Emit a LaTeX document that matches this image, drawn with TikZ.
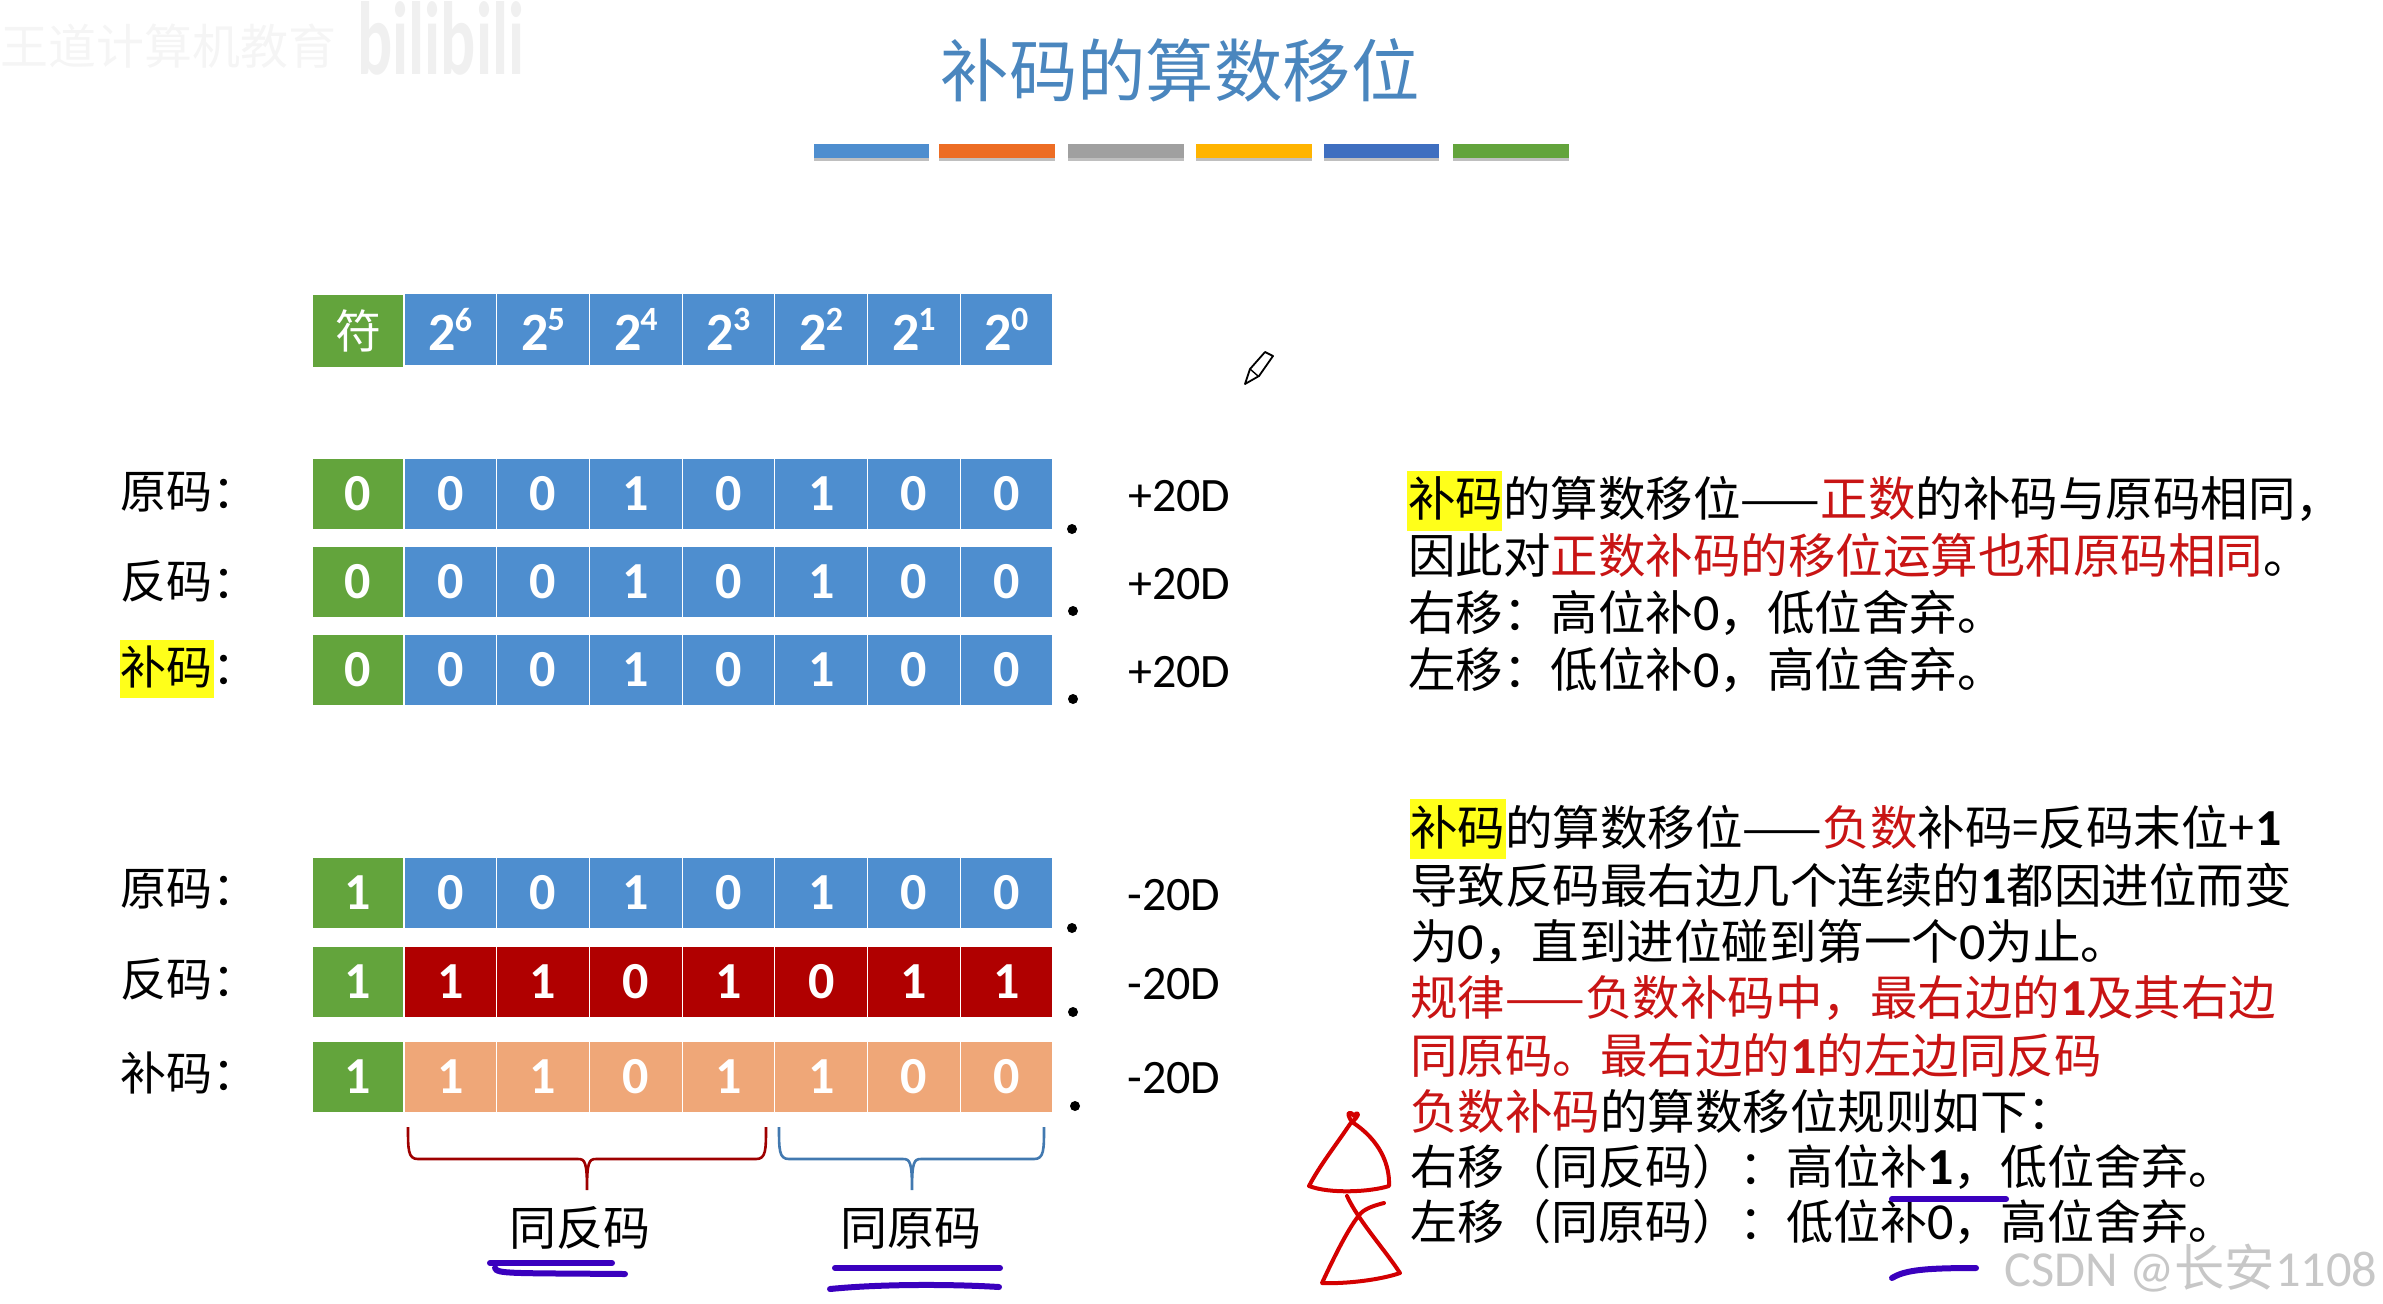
\documentclass[tikz,border=0pt]{standalone}
\usepackage{fontspec}
\setmainfont{Noto Sans CJK SC}
\newfontfamily\carlito{Carlito}
\newcommand\fs[1]{\fontsize{#1}{#1}\selectfont}
\newcommand\dg[1]{{\carlito\fs{26}#1}}
\newcommand\dgb[1]{{\carlito\bfseries\fs{26}#1}}
\definecolor{cgreen}{HTML}{63A43C}
\definecolor{cblue}{HTML}{4E8ECF}
\definecolor{cdark}{HTML}{B00000}
\definecolor{cpeach}{HTML}{EFA778}
\definecolor{ctitle}{HTML}{4A86BE}
\definecolor{tred}{HTML}{C81414}
\definecolor{hl}{HTML}{FFFF1A}
\definecolor{pen}{HTML}{3A00BE}
\definecolor{penred}{HTML}{D40000}
\tikzset{
  cellbox/.style={rectangle,draw=white,line width=.6pt,inner sep=0pt,text=white,
    font=\carlito\bfseries\fs{26},minimum width=46.36pt,minimum height=#1},
  cellbox/.default=36pt,
  rowlabel/.style={anchor=west,inner sep=0pt,font=\fs{23},text height=20.2pt,text depth=2.8pt},
  valuelabel/.style={anchor=west,inner sep=0pt,font=\carlito\fs{24},text height=16pt,text depth=0pt},
  bodyline/.style={anchor=west,inner sep=0pt,font=\fs{23.75},text height=20.9pt,text depth=2.9pt},
  caption/.style={inner sep=0pt,font=\fs{23.5},text height=20.7pt,text depth=2.8pt},
  decimal/.style={circle,fill=black,inner sep=0pt,minimum size=5pt},
  penline/.style={draw=pen,line width=3pt,line cap=round},
  redpen/.style={draw=penred,line width=2pt,line cap=round,line join=round},
}
\newcommand\bitrow[4]{% name, centre y, cell colour, bits
  \foreach \b [count=\i from 0] in {#4} {
    \ifnum\i=0
      \node[cellbox=36pt,fill=cgreen,minimum width=46pt] (#1c\i) at (358,#2) {\b};
    \else
      \pgfmathsetmacro\cx{404+92.72*(\i-1)+46.36}
      \node[cellbox=36pt,fill=#3] (#1c\i) at (\cx,#2) {\b};
    \fi
  }
}
\begin{document}
\begin{tikzpicture}[x=.5pt,y=-.5pt]
\useasboundingbox (0,0) rectangle (2383,1303);
% faint watermark
\node[inner sep=0pt,anchor=west,font=\fs{24},text=black!4] (wmtext) at (0,46) {王道计算机教育};
\node[inner sep=0pt,anchor=west,font=\carlito\bfseries\fs{40},text=black!6,xscale=.82,yscale=1.3,transform shape] (wmlogo) at (357,38) {bilibili};
% title
\node[inner sep=0pt,font=\fs{34.2},text=ctitle] (title) at (1180,70) {补码的算数移位};
% colour bars
\foreach \xa/\xb/\c [count=\n] in {814/929/4E8ECF,939/1055/ED6D24,1068/1184/A0A0A0,1196/1312/FFB400,1324/1439/3F6FC0,1453/1569/63A43C}{
  \definecolor{barc}{HTML}{\c}
  \fill[black!25] (\xa,146) rectangle (\xb,161);
  \fill[barc] (\xa,144) rectangle (\xb,158);
}
% header row
\node[cellbox=36.5pt,fill=cgreen,minimum width=46pt,font=\fs{23}] (hc0) at (358,331) {符};
\foreach \p [count=\i from 1] in {6,5,4,3,2,1,0} {
  \pgfmathsetmacro\cx{404+92.72*(\i-1)+46.36}
  \node[cellbox=36.5pt,fill=cblue,font=\carlito\bfseries\fs{27}] (hc\i) at (\cx,329.5) {2\kern-.02em\raisebox{.36em}{\fs{17}\p}};
}
% bit rows
\bitrow{a}{494}{cblue}{0,0,0,1,0,1,0,0}
\bitrow{b}{582}{cblue}{0,0,0,1,0,1,0,0}
\bitrow{c}{670}{cblue}{0,0,0,1,0,1,0,0}
\bitrow{d}{893}{cblue}{1,0,0,1,0,1,0,0}
\bitrow{e}{982}{cdark}{1,1,1,0,1,0,1,1}
\bitrow{f}{1077}{cpeach}{1,1,1,0,1,1,0,0}
% row labels
\fill[hl] (120,640) rectangle (214,698);
\node[rowlabel] (la) at (120,491) {原码：};
\node[rowlabel] (lb) at (120,581) {反码：};
\node[rowlabel] (lc) at (120,667) {补码：};
\node[rowlabel] (ld) at (120,888) {原码：};
\node[rowlabel] (le) at (120,979) {反码：};
\node[rowlabel] (lf) at (120,1073) {补码：};
% binary points
\node[decimal] (pa) at (1072,529) {};
\node[decimal] (pb) at (1073,611) {};
\node[decimal] (pc) at (1073,699) {};
\node[decimal] (pd) at (1072,928) {};
\node[decimal] (pe) at (1073,1012) {};
\node[decimal] (pf) at (1075,1106) {};
% values
\node[valuelabel] (va) at (1128,495) {+20D};
\node[valuelabel] (vb) at (1128,583) {+20D};
\node[valuelabel] (vc) at (1128,671) {+20D};
\node[valuelabel] (vd) at (1127,894) {-20D};
\node[valuelabel] (ve) at (1127,983) {-20D};
\node[valuelabel] (vf) at (1127,1077) {-20D};
% braces
\coordinate (ra) at (408,1127); \coordinate (rb) at (766,1127); \coordinate (rm) at (587,1190);
\coordinate (ba) at (779,1127); \coordinate (bb) at (1044,1127); \coordinate (bm) at (912,1190);
\draw[draw=cdark!90!black,line width=1.3pt,line join=round]
  (ra) .. controls (408,1150) and (408,1159) .. (418,1159) -- (578,1159)
  .. controls (585,1159) and (587,1162) .. (rm)
  (rb) .. controls (766,1150) and (766,1159) .. (756,1159) -- (596,1159)
  .. controls (589,1159) and (587,1162) .. (rm);
\draw[draw=cblue!85!black,line width=1.3pt,line join=round]
  (ba) .. controls (779,1150) and (779,1159) .. (789,1159) -- (903,1159)
  .. controls (910,1159) and (912,1162) .. (bm)
  (bb) .. controls (1044,1150) and (1044,1159) .. (1034,1159) -- (921,1159)
  .. controls (914,1159) and (912,1162) .. (bm);
% captions
\node[caption] (capa) at (580,1228) {同反码};
\node[caption] (capb) at (911,1228) {同原码};
% pencil cursor
\draw[draw=black,fill=white,line width=.9pt,line join=round] (1245,384) -- (1250,369) -- (1265,352) -- (1273,356) -- (1259,376) -- cycle;
\draw[draw=black,line width=.7pt] (1250,369) -- (1258,376);
% right text, upper block
\fill[hl] (1407,471) rectangle (1502,531);
\node[bodyline] (t1) at (1408,498) {补码的算数移位——\textcolor{tred}{正数}的补码与原码相同，};
\node[bodyline] (t2) at (1408,555) {因此对\textcolor{tred}{正数补码的移位运算也和原码相同}。};
\node[bodyline] (t3) at (1408,612) {右移：高位补\dg{0}，低位舍弃。};
\node[bodyline] (t4) at (1408,669) {左移：低位补\dg{0}，高位舍弃。};
% right text, lower block
\fill[hl] (1410,799) rectangle (1506,859);
\node[bodyline] (u1) at (1410,827) {补码的算数移位——\textcolor{tred}{负数}补码=反码末位+\dgb{1}};
\node[bodyline] (u2) at (1410,885) {导致反码最右边几个连续的\dgb{1}都因进位而变};
\node[bodyline] (u3) at (1410,941) {为\dg{0}，直到进位碰到第一个\dg{0}为止。};
\node[bodyline,text=tred] (u4) at (1410,997) {规律——负数补码中，最右边的\dgb{1}及其右边};
\node[bodyline,text=tred] (u5) at (1410,1055) {同原码。最右边的\dgb{1}的左边同反码};
\node[bodyline] (u6) at (1410,1111) {\textcolor{tred}{负数补码}的算数移位规则如下：};
\node[bodyline,font=\fs{23.5}] (u7) at (1410,1166) {右移（同反码）：高位补\dgb{1}，低位舍弃。};
\node[bodyline,font=\fs{23.5}] (u8) at (1410,1221) {左移（同原码）：低位补\dg{0}，高位舍弃。};
% handwritten pen strokes
\draw[penline] (490,1263) -- (612,1263);
\draw[penline] (495,1268) .. controls (497,1274) and (510,1273) .. (625,1274);
\draw[penline] (835,1268) -- (1000,1268);
\draw[penline] (830,1289) .. controls (880,1284) and (950,1284) .. (999,1287);
\draw[penline] (1892,1199) -- (2006,1199);
\draw[penline] (1892,1278) .. controls (1905,1270) and (1925,1268) .. (1976,1268);
% hand-drawn triangles
\draw[redpen] (1352,1122) .. controls (1345,1112) and (1350,1110) .. (1354,1116)
  .. controls (1358,1110) and (1362,1114) .. (1350,1124)
  .. controls (1336,1145) and (1320,1165) .. (1309,1186)
  .. controls (1330,1194) and (1370,1192) .. (1389,1186)
  .. controls (1390,1165) and (1380,1140) .. (1352,1122);
\draw[redpen] (1347,1196) .. controls (1358,1220) and (1385,1250) .. (1400,1273)
  .. controls (1380,1280) and (1345,1284) .. (1322,1283)
  .. controls (1335,1255) and (1350,1225) .. (1361,1213)
  .. controls (1366,1208) and (1376,1205) .. (1384,1203);
% watermark
\node[inner sep=0pt,anchor=west,font=\carlito\fs{25.2},text=black!22] (csdn) at (2004,1268) {CSDN @{\rmfamily 长安}1108};
\end{tikzpicture}
\end{document}
